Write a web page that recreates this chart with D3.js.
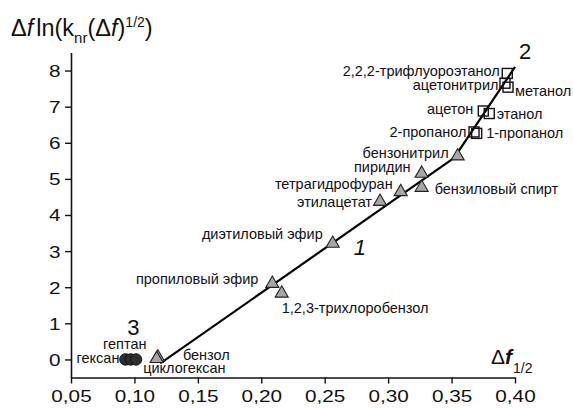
<!DOCTYPE html>
<html>
<head>
<meta charset="utf-8">
<script src="https://cdn.jsdelivr.net/npm/d3@7"></script>
<style>
  html, body { margin: 0; padding: 0; background: #fff; }
  svg { display: block; font-family: "Liberation Sans", Arial, sans-serif; }
</style>
</head>
<body>
<svg id="chart" width="573" height="408"></svg>
<script>
// ---- data -------------------------------------------------------------
// Solvents of series 1 (triangles)
const triNames = ["бензол", "циклогексан", "пропиловый эфир", "1,2,3-трихлоробензол",
  "диэтиловый эфир", "этилацетат", "тетрагидрофуран", "пиридин",
  "бензиловый спирт", "бензонитрил"];
const triX = [0.1185, 0.1175, 0.2087, 0.2161, 0.2563, 0.2936, 0.3099, 0.3264, 0.3264, 0.3548];
const triY = [0.06, 0.02, 2.10, 1.83, 3.21, 4.37, 4.64, 5.15, 4.76, 5.63];

// Solvents of series 2 (open squares)
const sqNames = ["2-пропанол", "1-пропанол", "ацетон", "этанол",
  "ацетонитрил", "метанол", "2,2,2-трифлуороэтанол"];
const sqX = [0.3677, 0.3698, 0.3750, 0.3797, 0.3921, 0.3945, 0.3939];
const sqY = [6.30, 6.26, 6.88, 6.81, 7.65, 7.54, 7.92];

// Solvents of series 3 (filled circles)
const circNames = ["гексан", "гептан", ""];
const circX = [0.0929, 0.0971, 0.1013];
const circY = [0.0, 0.0, 0.0];

// Fitted dependence (lines 1 and 2)
const fitX = [0.1204, 0.352, 0.400];
const fitY = [-0.11, 5.58, 8.10];

// Curve numbers
const curveNames = ["1", "2", "3"];
const curveX = [0.2778, 0.4079, 0.0991];
const curveY = [2.90, 8.31, 0.68];

// Axis ticks
const xTicks = [0.05, 0.10, 0.15, 0.20, 0.25, 0.30, 0.35, 0.40];
const xMinor = [0.075, 0.125, 0.175, 0.225, 0.275, 0.325, 0.375];
const yTicks = [0, 1, 2, 3, 4, 5, 6, 7, 8];
const yMinor = [-0.5, 0.5, 1.5, 2.5, 3.5, 4.5, 5.5, 6.5, 7.5, 8.5];

// ---- label layout (offset of each label from its marker) ---------------
const triLabelPos = [
  { a: "start", dx: 25, dy: 2.5 },
  { a: "start", dx: -13.5, dy: 14 },
  { a: "end", dx: -14, dy: 0 },
  { a: "start", dx: 0, dy: 20 },
  { a: "end", dx: -10, dy: -5 },
  { a: "end", dx: -8, dy: 5.5 },
  { a: "end", dx: -8, dy: -2.5 },
  { a: "end", dx: -11, dy: -1 },
  { a: "start", dx: 13, dy: 6 },
  { a: "end", dx: -9, dy: 1.5 }
];
const sqLabelPos = [
  { a: "end", dx: -7.5, dy: 5.5 },
  { a: "start", dx: 9.5, dy: 4.5 },
  { a: "end", dx: -10, dy: 3 },
  { a: "start", dx: 7.5, dy: 5.5 },
  { a: "end", dx: -6.5, dy: 7 },
  { a: "start", dx: 7, dy: 8.5 },
  { a: "end", dx: -7.5, dy: 2.5 }
];
const circLabelPos = [
  { a: "end", dx: -6, dy: 4 },
  { a: "middle", dx: -6, dy: -10.5 },
  { a: "middle", dx: 0, dy: 0 }
];

// ---- scales -------------------------------------------------------------
const svg = d3.select("#chart");
const x = d3.scaleLinear().domain([0.05, 0.40]).range([71, 515]);
const y = d3.scaleLinear().domain([-0.5, 8.5]).range([377.5, 52.5]);

const fmt = d => d3.format(".2f")(d).replace(".", ",");

// ---- axes -----------------------------------------------------------------
const gx = svg.append("g").attr("transform", `translate(0,${y(-0.5)})`);
gx.call(d3.axisBottom(x).tickValues(xMinor).tickSize(3).tickSizeOuter(0).tickFormat(""));
gx.call(d3.axisBottom(x).tickValues(xTicks).tickSize(6).tickSizeOuter(0).tickFormat(fmt));
gx.selectAll("text")
  .attr("y", 24.5).attr("dy", 0)
  .attr("transform", "scale(1.22,1)")
  .style("font-size", "17px").attr("fill", "#111");

const gy = svg.append("g").attr("transform", `translate(${x(0.05)},0)`);
gy.call(d3.axisLeft(y).tickValues(yMinor).tickSize(3).tickSizeOuter(0).tickFormat(""));
gy.call(d3.axisLeft(y).tickValues(yTicks).tickSize(6).tickSizeOuter(0).tickFormat(d3.format("d")));
gy.selectAll("text")
  .attr("x", -8.5).attr("dy", "0.35em")
  .attr("transform", "scale(1.22,1)")
  .style("font-size", "17px").attr("fill", "#111");

svg.selectAll(".domain").attr("stroke", "#111").attr("stroke-width", 1.6);
svg.selectAll(".tick line").attr("stroke", "#111").attr("stroke-width", 1.4);

// ---- axis titles ------------------------------------------------------------
const yt = svg.append("text").attr("x", 11).attr("y", 36)
  .style("font-size", "23.5px").attr("fill", "#111");
yt.append("tspan").text("Δ");
yt.append("tspan").style("font-style", "italic").text("f");
yt.append("tspan").attr("dx", 3).text("ln(k");
yt.append("tspan").style("font-size", "15px").attr("dy", 7).text("nr");
yt.append("tspan").attr("dy", -7).text("(Δ");
yt.append("tspan").style("font-style", "italic").text("f");
yt.append("tspan").text(")");
yt.append("tspan").style("font-size", "14px").attr("dy", -9).text("1/2");
yt.append("tspan").attr("dy", 9).text(")");

const xt = svg.append("text").attr("x", 491).attr("y", 364)
  .style("font-size", "21px").attr("fill", "#111");
xt.append("tspan").text("Δ");
xt.append("tspan").style("font-style", "italic").style("font-weight", "bold").text("f");
xt.append("tspan").style("font-size", "14px").attr("dy", 9).attr("dx", 1).text("1/2");

// ---- fitted line ---------------------------------------------------------
const fit = fitX.map((v, i) => [v, fitY[i]]);
svg.append("path")
  .datum(fit)
  .attr("fill", "none").attr("stroke", "#000").attr("stroke-width", 2.2)
  .attr("stroke-linejoin", "round")
  .attr("d", d3.line().x(d => x(d[0])).y(d => y(d[1])));

// ---- markers ----------------------------------------------------------------
const tri = triX.map((v, i) => ({ x: v, y: triY[i], name: triNames[i], p: triLabelPos[i] }));
const sq = sqX.map((v, i) => ({ x: v, y: sqY[i], name: sqNames[i], p: sqLabelPos[i] }));
const circ = circX.map((v, i) => ({ x: v, y: circY[i], name: circNames[i], p: circLabelPos[i] }));

svg.append("g").selectAll("circle").data(circ).join("circle")
  .attr("cx", d => x(d.x)).attr("cy", d => y(d.y)).attr("r", 5.7)
  .attr("fill", "#2e2e2e").attr("stroke", "#111").attr("stroke-width", 1);

const triSym = d3.symbol().type(d3.symbolTriangle).size(74);
svg.append("g").selectAll("path").data(tri).join("path")
  .attr("d", triSym)
  .attr("transform", d => `translate(${x(d.x)},${y(d.y)})`)
  .attr("fill", "#a6a6a6").attr("stroke", "#222").attr("stroke-width", 1.1);

svg.append("g").selectAll("rect").data(sq).join("rect")
  .attr("x", d => x(d.x) - 5).attr("y", d => y(d.y) - 5)
  .attr("width", 10).attr("height", 10)
  .attr("fill", "none").attr("stroke", "#111").attr("stroke-width", 1.4);

// ---- point labels ----------------------------------------------------------
const labels = svg.append("g").style("font-size", "14.5px").attr("fill", "#111");
[...tri, ...sq, ...circ].filter(d => d.name).forEach(d => {
  labels.append("text")
    .attr("x", x(d.x) + d.p.dx).attr("y", y(d.y) + d.p.dy)
    .attr("text-anchor", d.p.a)
    .text(d.name);
});

// ---- curve numbers -----------------------------------------------------------
svg.append("g").selectAll("text").data(curveNames).join("text")
  .attr("x", (d, i) => x(curveX[i])).attr("y", (d, i) => y(curveY[i]))
  .attr("text-anchor", "middle")
  .style("font-size", "22px")
  .style("font-style", d => d === "1" ? "italic" : "normal")
  .attr("fill", "#111")
  .text(d => d);
</script>
</body>
</html>
